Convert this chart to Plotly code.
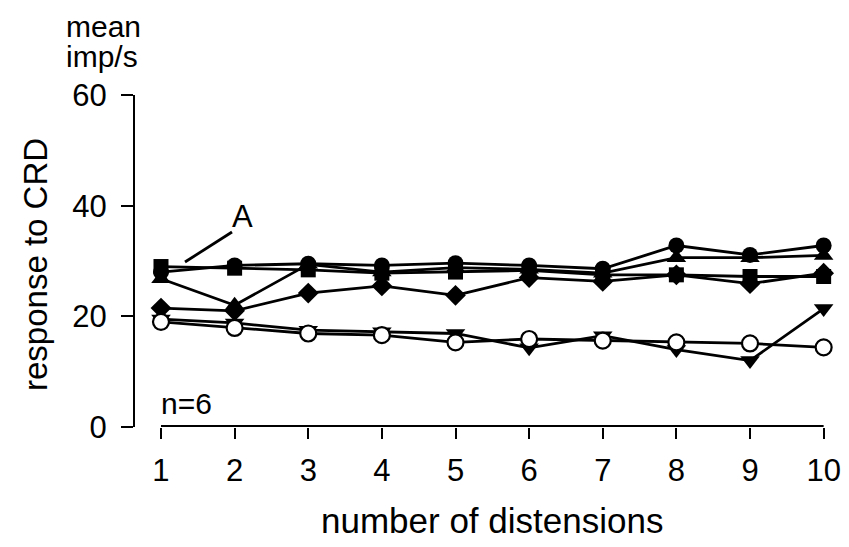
import plotly.graph_objects as go

distensions = [1, 2, 3, 4, 5, 6, 7, 8, 9, 10]
filled_circle = [28.0, 29.2, 29.5, 29.2, 29.6, 29.2, 28.6, 32.8, 31.1, 32.8]
filled_square = [29.0, 28.7, 28.4, 27.8, 28.0, 28.3, 27.5, 27.5, 27.2, 27.2]
filled_triangle_up = [26.8, 22.0, 29.4, 28.0, 28.8, 28.5, 27.8, 30.6, 30.6, 31.0]
filled_diamond = [21.5, 21.0, 24.2, 25.5, 23.8, 27.0, 26.3, 27.5, 25.9, 27.8]
filled_triangle_down = [19.5, 18.8, 17.5, 17.2, 16.9, 14.3, 16.5, 14.0, 12.0, 21.4]
open_circle = [19.0, 17.9, 16.9, 16.6, 15.3, 15.9, 15.6, 15.3, 15.1, 14.4]
y_ticks = [0, 20, 40, 60]

FONT = "Liberation Sans, Arial, Helvetica, sans-serif"

W, H = 849, 547
OFF = 8  # page body margin
# wanted screen positions of the plot area
S_LEFT, S_RIGHT, S_TOP, S_BOTTOM = 135, 831, 95, 427
L = S_LEFT - OFF
T = S_TOP - OFF
R = W - (S_RIGHT - OFF)
B = H - (S_BOTTOM - OFF)
XR = [0.647, 10.1]
YR = [0, 60]

fig = go.Figure()

series = [
    (filled_diamond, "diamond", 16, "black"),
    (filled_triangle_up, "triangle-up", 17, "black"),
    (filled_circle, "circle", 16, "black"),
    (filled_square, "square", 15, "black"),
    (filled_triangle_down, "triangle-down", 17, "black"),
    (open_circle, "circle", 16, "white"),
]
for vals, sym, size, fill in series:
    fig.add_trace(go.Scatter(
        x=distensions, y=vals, mode="lines+markers",
        line=dict(color="black", width=2.8),
        marker=dict(symbol=sym, size=size, color=fill,
                    line=dict(color="black", width=2.2 if fill == "white" else 0)),
        cliponaxis=False, showlegend=False, hoverinfo="x+y",
    ))

pw = S_RIGHT - S_LEFT
ph = S_BOTTOM - S_TOP


def px_to_xpaper(px):
    return (px - S_LEFT) / pw


def px_to_ypaper(py):
    return (S_BOTTOM - py) / ph


# separate x axis line from 1 to 10
fig.add_shape(type="line", xref="x", yref="paper", x0=distensions[0], x1=distensions[-1],
              y0=px_to_ypaper(426), y1=px_to_ypaper(426), line=dict(color="black", width=2.2))

# label line for "A"
fig.add_shape(type="line", xref="paper", yref="paper",
              x0=px_to_xpaper(185), y0=px_to_ypaper(262),
              x1=px_to_xpaper(232), y1=px_to_ypaper(232),
              line=dict(color="black", width=2.8))

annotations = [
    dict(text="A", x=px_to_xpaper(242), y=px_to_ypaper(216), font=dict(size=31)),
    dict(text="n=6", x=px_to_xpaper(159), y=px_to_ypaper(403), xanchor="left", font=dict(size=30)),
    dict(text="mean", x=px_to_xpaper(64), y=px_to_ypaper(26), xanchor="left", font=dict(size=30)),
    dict(text="imp/s", x=px_to_xpaper(64), y=px_to_ypaper(57), xanchor="left", font=dict(size=30)),
    dict(text="response to CRD", x=px_to_xpaper(35), y=px_to_ypaper(265), textangle=-90, font=dict(size=33)),
    dict(text="number of distensions", x=px_to_xpaper(492), y=px_to_ypaper(520), font=dict(size=35)),
]
for a in annotations:
    a.setdefault("xanchor", "center")
    a.update(xref="paper", yref="paper", showarrow=False, yanchor="middle")
    a["font"].update(family=FONT, color="black")
    fig.add_annotation(**a)

fig.update_layout(
    width=W, height=H,
    margin=dict(l=L, r=R, t=T, b=B, pad=0),
    paper_bgcolor="white", plot_bgcolor="white",
    font=dict(family=FONT, color="black"),
    xaxis=dict(range=XR, tickvals=distensions, ticks="outside", ticklen=11, tickwidth=2.2,
               tickcolor="black", showline=False, showgrid=False, zeroline=False,
               tickfont=dict(size=31, family=FONT), ticklabelstandoff=5),
    yaxis=dict(range=YR, tickvals=y_ticks, ticks="outside", ticklen=12, tickwidth=2.2,
               tickcolor="black", showline=True, linewidth=2.2, linecolor="black",
               showgrid=False, zeroline=False,
               tickfont=dict(size=31, family=FONT), ticklabelstandoff=8),
)

fig.write_html("out.html")
